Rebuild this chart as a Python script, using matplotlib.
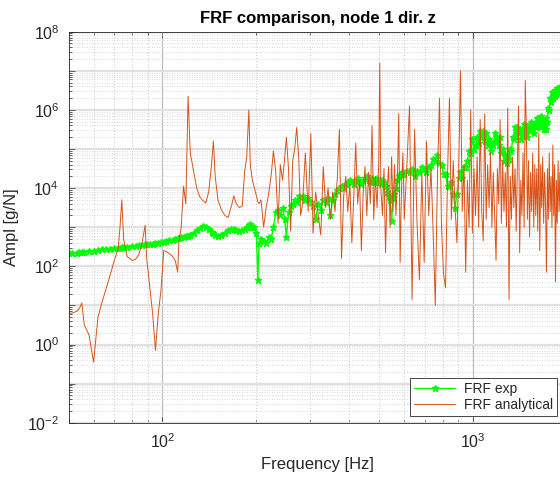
"""
FRF comparison, experimental vs analytical (node 1, dir. z)
"""
import numpy as np
import matplotlib
matplotlib.use('Agg')
import matplotlib.pyplot as plt
from matplotlib.ticker import LogLocator, FuncFormatter, NullFormatter

plt.rcParams['font.family'] = ['Liberation Sans', 'DejaVu Sans']
plt.rcParams['mathtext.default'] = 'regular'

"""
Values read off the picture, amplitudes as log10 exponents.
"""
# 50 - 123 Hz
freq_a = [50, 51, 53, 54, 55, 56, 58, 60, 62, 64, 66, 68, 70, 72, 73, 74, 75, 77, 80, 82,
          84, 86, 88, 89, 91, 93, 95, 97, 99, 101, 103, 105, 108, 110, 112, 113, 115, 117, 119, 121, 123]
exp_a = [2.33, 2.34, 2.35, 2.36, 2.37, 2.37, 2.39, 2.40, 2.42, 2.43, 2.44, 2.45, 2.47, 2.48, 2.48, 2.49, 2.50, 2.50, 2.52, 2.53,
         2.54, 2.55, 2.56, 2.56, 2.57, 2.58, 2.59, 2.60, 2.61, 2.62, 2.64, 2.66, 2.68, 2.70, 2.72, 2.72, 2.74, 2.75, 2.77, 2.78, 2.80]
ana_a = [0.80, 0.80, 0.85, 0.92, 1.06, 0.50, 0.25, -0.45, 0.70, 1.10, 1.45, 1.80, 2.15, 2.45, 3.00, 3.70, 2.70, 2.25, 2.15, 2.18,
         2.30, 2.60, 3.05, 2.20, 1.50, 0.80, -0.15, 0.80, 1.40, 2.40, 2.38, 2.33, 2.25, 2.15, 1.85, 2.60, 3.00, 4.05, 3.60, 6.35, 4.90]
# 126 - 279 Hz
freq_b = [126, 129, 132, 135, 138, 141, 144, 146, 148, 151, 155, 159, 163, 167, 170, 173, 177, 181, 184, 187,
          190, 192, 195, 198, 201, 203, 205, 208, 212, 216, 220, 224, 228, 232, 236, 240, 244, 248, 251, 255,
          259, 263, 267, 271, 275, 279]
exp_b = [2.85, 2.92, 2.98, 3.02, 3.00, 2.95, 2.88, 2.84, 2.80, 2.78, 2.80, 2.85, 2.92, 2.96, 2.95, 2.92, 2.90, 2.92, 2.95, 3.00,
         3.05, 3.08, 3.00, 3.00, 2.85, 1.65, 2.60, 2.70, 2.65, 2.60, 2.75, 2.70, 3.00, 3.40, 3.45, 3.30, 3.50, 3.20, 2.75, 3.40,
         3.55, 3.60, 3.70, 3.65, 3.80, 3.75]
ana_b = [4.45, 4.00, 3.78, 3.68, 3.62, 3.90, 4.60, 5.20, 4.30, 3.70, 3.44, 3.30, 3.25, 3.55, 3.80, 3.60, 3.50, 3.55, 4.40, 4.80,
         6.00, 4.60, 4.20, 4.00, 3.80, 3.65, 3.60, 3.70, 3.00, 3.50, 3.85, 4.30, 4.95, 4.40, 3.10, 4.60, 4.20, 4.80, 5.30, 4.50,
         2.90, 4.70, 5.00, 5.55, 4.80, 3.30]
# 283 - 596 Hz
freq_c = [283, 289, 295, 301, 306, 312, 318, 324, 330, 336, 342, 348, 354, 360, 366, 372, 378, 384, 390, 396,
          402, 408, 414, 420, 426, 432, 438, 444, 450, 456, 462, 468, 474, 480, 486, 492, 498, 502, 506, 512,
          518, 524, 530, 536, 542, 548, 554, 560, 566, 572, 578, 584, 590, 596]
exp_c = [3.80, 3.70, 3.75, 3.65, 3.55, 3.20, 3.60, 3.45, 3.70, 3.65, 3.75, 3.30, 3.70, 3.85, 3.95, 4.00, 4.05, 4.00, 4.10, 4.15,
         4.20, 4.15, 4.10, 4.20, 4.25, 4.15, 4.10, 4.20, 4.25, 4.30, 4.20, 4.15, 4.25, 4.20, 4.15, 4.25, 4.20, 4.15, 4.10, 4.20,
         4.15, 4.05, 3.90, 3.80, 3.70, 3.15, 3.75, 3.85, 4.00, 4.20, 4.30, 4.35, 4.40, 4.35]
ana_c = [3.6, 4.9, 3.4, 5.4, 2.85, 3.9, 3.3, 2.8, 4.55, 3.5, 4.0, 3.2, 3.9, 3.4, 4.2, 5.5, 2.2, 3.8, 4.3, 3.4,
         4.1, 2.6, 3.8, 5.15, 3.6, 4.2, 2.4, 3.9, 4.55, 3.3, 4.4, 3.6, 5.6, 3.2, 4.3, 3.5, 4.6, 7.2, 4.0, 3.3,
         4.5, 2.35, 3.9, 4.55, 3.0, 4.8, 3.4, 4.6, 3.3, 4.2, 5.9, 2.1, 4.0, 4.9]
# 602 - 1994 Hz
freq_d = [602, 614, 626, 638, 650, 662, 674, 686, 698, 710,
          722, 734, 746, 758, 770, 782, 794, 806, 818, 830,
          842, 854, 866, 878, 890, 902, 914, 926, 938, 950,
          962, 974, 986, 998, 1010, 1022, 1034, 1046, 1058, 1070,
          1082, 1094, 1106, 1118, 1130, 1142, 1154, 1166, 1178, 1190,
          1202, 1214, 1226, 1238, 1250, 1262, 1274, 1286, 1298, 1310,
          1322, 1334, 1346, 1358, 1370, 1382, 1394, 1406, 1418, 1430,
          1442, 1454, 1466, 1478, 1490, 1502, 1514, 1526, 1538, 1550,
          1562, 1574, 1586, 1598, 1610, 1622, 1634, 1646, 1658, 1670,
          1682, 1694, 1706, 1718, 1730, 1742, 1754, 1766, 1778, 1790,
          1802, 1814, 1826, 1838, 1850, 1862, 1874, 1886, 1898, 1910,
          1922, 1934, 1946, 1958, 1970, 1982, 1994]
exp_d = [4.35, 4.45, 4.40, 4.50, 4.30, 4.45, 4.40, 4.55, 4.50, 4.40,
         4.55, 4.60, 4.75, 4.70, 4.85, 4.65, 4.60, 4.35, 4.35, 4.05,
         4.05, 4.15, 3.85, 3.50, 3.85, 4.25, 4.40, 4.25, 4.55, 4.55,
         4.70, 4.95, 4.90, 5.25, 5.00, 5.10, 5.30, 5.15, 5.45, 5.30,
         5.45, 5.20, 5.40, 5.10, 5.25, 4.95, 5.15, 5.10, 5.40, 5.20,
         5.30, 5.10, 5.30, 4.90, 5.00, 4.70, 4.85, 4.65, 4.85, 4.75,
         5.00, 4.95, 5.30, 5.25, 5.55, 5.40, 5.55, 5.40, 5.50, 5.25,
         5.45, 5.35, 5.65, 5.40, 5.55, 5.30, 5.60, 5.45, 5.70, 5.50,
         5.60, 5.40, 5.65, 5.55, 5.80, 5.60, 5.70, 5.60, 5.85, 5.65,
         5.75, 5.50, 5.60, 5.50, 5.80, 5.70, 6.05, 6.00, 6.30, 6.20,
         6.45, 6.30, 6.45, 6.35, 6.50, 6.40, 6.55, 6.45, 6.55, 6.50,
         6.60, 6.50, 6.60, 6.55, 6.62, 6.55, 6.65]
ana_d = [3.2, 4.6, 6.1, 1.15, 5.5, 3.1, 1.65, 4.4, 2.1, 5.2,
         3.3, 4.5, 2.9, 1.0, 4.2, 6.3, 3.0, 1.8, 1.45, 4.3,
         6.3, 3.2, 4.7, 3.5, 2.6, 4.5, 7.0, 3.4, 4.6, 1.85,
         4.2, 3.0, 6.0, 2.85, 4.5, 3.3, 4.8, 3.0, 5.75, 3.4,
         2.65, 5.9, 3.2, 4.6, 3.5, 4.9, 3.0, 4.4, 3.3, 2.15,
         4.5, 3.6, 5.75, 3.1, 4.7, 3.4, 4.4, 3.0, 6.05, 1.15,
         4.3, 3.2, 4.8, 3.5, 4.5, 2.9, 4.6, 6.1, 2.35, 4.2,
         3.3, 4.9, 3.0, 6.75, 5.55, 3.2, 4.7, 2.75, 4.4, 3.4,
         4.9, 3.0, 4.6, 3.3, 4.5, 2.9, 5.4, 2.4, 4.6, 3.5,
         4.8, 3.1, 4.4, 3.6, 1.85, 4.5, 3.2, 4.9, 3.4, 4.3,
         3.0, 5.1, 3.3, 4.6, 1.6, 4.2, 3.1, 4.7, 3.4, 4.4,
         3.0, 4.6, 3.3, 4.5, 3.2, 4.4, 3.5]

freq = np.concatenate([freq_a, freq_b, freq_c, freq_d]).astype(float)
frf_exp = 10.0**np.concatenate([exp_a, exp_b, exp_c, exp_d])
frf_ana = 10.0**np.concatenate([ana_a, ana_b, ana_c, ana_d])

c_exp, c_ana = '#00ff00', '#d95319'
txt = '#262626'

fig = plt.figure(figsize=(5.6, 4.8), dpi=100)
# axes run slightly past the right edge of the picture, as in the reference
ax = fig.add_axes([69/560, 1-422.7/480, (566-69)/560, (422.7-31.7)/480])
ax.loglog(freq, frf_exp, '-*', color=c_exp, lw=1.0, markersize=4.5, label='FRF exp')
ax.loglog(freq, frf_ana, '-', color=c_ana, lw=0.7, label='FRF analytical')
ax.set_xlim(50, 2000)
ax.set_ylim(1e-2, 1e8)

ax.xaxis.set_major_locator(LogLocator(base=10, numticks=10))
ax.xaxis.set_minor_locator(LogLocator(base=10, subs=np.arange(2, 10), numticks=100))
ax.xaxis.set_minor_formatter(NullFormatter())
ax.yaxis.set_major_locator(LogLocator(base=10, numticks=20))
ax.yaxis.set_minor_locator(LogLocator(base=10, subs=np.arange(2, 10), numticks=200))
ax.yaxis.set_minor_formatter(NullFormatter())
ax.yaxis.set_major_formatter(FuncFormatter(
    lambda v, pos: r'$10^{%d}$' % round(np.log10(v)) if round(np.log10(v)) % 2 == 0 else ''))
ax.xaxis.set_major_formatter(FuncFormatter(lambda v, pos: r'$10^{%d}$' % round(np.log10(v))))

ax.tick_params(which='both', direction='in', top=True, right=True, colors=txt,
               labelsize=11.5, width=0.5)
ax.tick_params(which='major', length=4, pad=7)
ax.tick_params(which='minor', length=2)
for s in ax.spines.values():
    s.set_color(txt)
    s.set_linewidth(0.6)

ax.set_axisbelow(True)
ax.xaxis.grid(True, which='major', color='#bdbdbd', lw=0.9)
ax.xaxis.grid(True, which='minor', color='#c8c8c8', lw=0.7, linestyle=(0, (1, 2)))
ax.yaxis.grid(True, which='major', color='#e0e0e0', lw=1.6)
ax.yaxis.grid(True, which='minor', color='#cccccc', lw=0.6, linestyle=(0, (1, 2)))

ax.set_title('FRF comparison, node 1 dir. z', fontsize=12, fontweight='bold', color='#000000', pad=6)
ax.set_xlabel('Frequency [Hz]', fontsize=12, color=txt, labelpad=4)
ax.set_ylabel('Ampl [g/N]', fontsize=12, color=txt, labelpad=6)

leg = ax.legend(loc='lower right', bbox_to_anchor=(557/560, 1-416/480), bbox_transform=fig.transFigure,
                fontsize=10, frameon=True, fancybox=False, framealpha=1, edgecolor=txt,
                borderpad=0.3, labelspacing=0.15, handlelength=3.0, handletextpad=0.6, borderaxespad=0)
leg.get_frame().set_linewidth(0.6)
for t in leg.get_texts():
    t.set_color(txt)

plt.savefig('out.png', dpi=100)
plt.close()
